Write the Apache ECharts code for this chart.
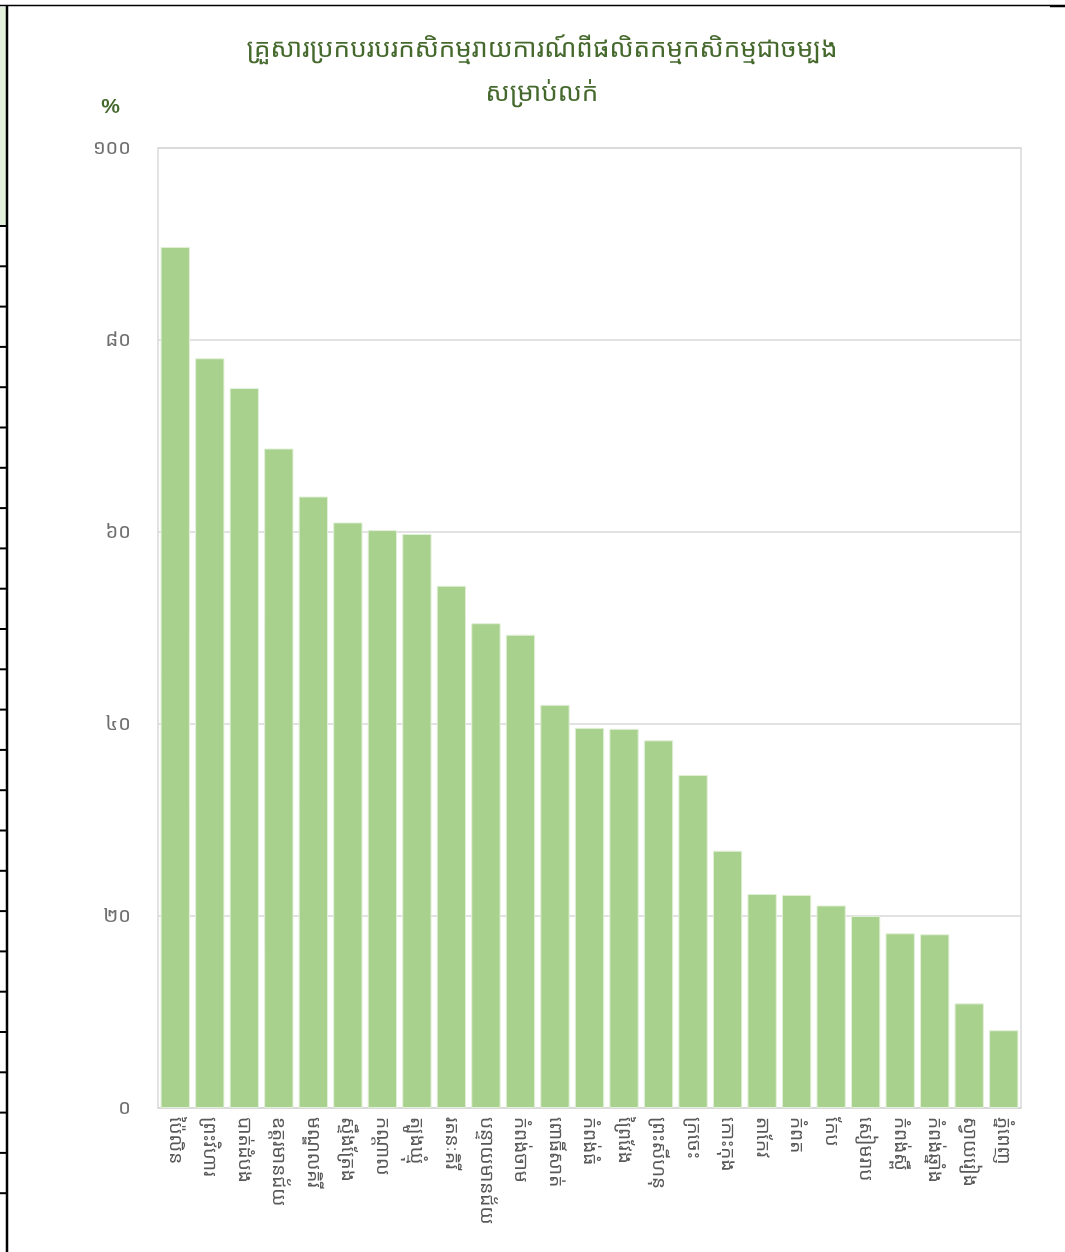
<!DOCTYPE html>
<html>
<head>
<meta charset="utf-8">
<script src="https://cdn.jsdelivr.net/npm/echarts@6/dist/echarts.min.js"></script>
<style>
  html, body { margin: 0; padding: 0; background: #fff; }
  #main { width: 1065px; height: 1252px; }
</style>
</head>
<body>
<div id="main"></div>
<script>
// ខេត្ត (provinces)
var provinces = [
  'ប៉ៃលិន', 'ព្រះវិហារ', 'បាត់ដំបង', 'ឧត្តរមានជ័យ', 'មណ្ឌលគិរី',
  'ស្ទឹងត្រែង', 'កណ្តាល', 'ត្បូងឃ្មុំ', 'រតនៈគិរី', 'បន្ទាយមានជ័យ',
  'កំពង់ចាម', 'ពោធិ៍សាត់', 'កំពង់ធំ', 'ព្រៃវែង', 'ព្រះសីហនុ',
  'ក្រចេះ', 'កោះកុង', 'តាកែវ', 'កំពត', 'កែប',
  'សៀមរាប', 'កំពង់ស្ពឺ', 'កំពង់ឆ្នាំង', 'ស្វាយរៀង', 'ភ្នំពេញ'
];
// % of households
var percents = [
  89.7, 78.1, 75.0, 68.7, 63.7,
  61.0, 60.2, 59.8, 54.4, 50.5,
  49.3, 42.0, 39.6, 39.5, 38.3,
  34.7, 26.8, 22.3, 22.2, 21.1,
  20.0, 18.2, 18.1, 10.9, 8.1
];
var khDigits = ['០', '១', '២', '៣', '៤', '៥', '៦', '៧', '៨', '៩'];
var titleText = 'គ្រួសារប្រកបរបរកសិកម្មរាយការណ៍ពីផលិតកម្មកសិកម្មជាចម្បង\nសម្រាប់លក់';

function toKhmer(n) {
  return String(n).replace(/[0-9]/g, function (d) { return khDigits[+d]; });
}

var khFont = '"Noto Sans Khmer", "Khmer OS", "Noto Sans", sans-serif';

// bits of the sheet border round the chart
var sheetLines = [];
for (var i = 0; i < 25; i++) {
  var ty = 226 + i * 40.3;
  sheetLines.push({
    type: 'line',
    shape: { x1: 0, y1: ty, x2: 8, y2: ty },
    style: { stroke: '#000', lineWidth: 2 }
  });
}

var myChart = echarts.init(document.getElementById('main'));
var option = {
  backgroundColor: '#fff',
  animation: false,
  title: {
    text: titleText,
    left: 537,
    top: 23,
    textAlign: 'center',
    textStyle: {
      color: '#45692d',
      fontSize: 26,
      fontWeight: 'normal',
      fontFamily: khFont,
      lineHeight: 44
    }
  },
  graphic: [
    {
      type: 'rect',
      shape: { x: 0, y: 7, width: 7, height: 219 },
      style: { fill: '#e2efda' }
    },
    {
      type: 'line',
      shape: { x1: 7, y1: 5, x2: 7, y2: 1252 },
      style: { stroke: '#000', lineWidth: 2.5 }
    },
    {
      type: 'line',
      shape: { x1: 0, y1: 5.5, x2: 1050, y2: 5.5 },
      style: { stroke: '#000', lineWidth: 1.5 }
    },
    {
      type: 'line',
      shape: { x1: 1050, y1: 6, x2: 1065, y2: 6 },
      style: { stroke: '#000', lineWidth: 2.5 }
    },
    {
      type: 'rect',
      shape: { x: 158, y: 148, width: 863, height: 960 },
      style: { fill: 'none', stroke: '#d9d9d9', lineWidth: 1.5 },
      z: 0
    }
  ].concat(sheetLines),
  grid: {
    left: 158,
    right: 44,
    top: 148,
    bottom: 144,
    containLabel: false
  },
  xAxis: {
    type: 'category',
    data: provinces,
    axisLine: { show: true, lineStyle: { color: '#d9d9d9', width: 1.5 } },
    axisTick: { show: false },
    axisLabel: {
      interval: 0,
      rotate: -90,
      margin: 9,
      color: '#595959',
      fontSize: 19,
      fontFamily: khFont
    }
  },
  yAxis: {
    type: 'value',
    min: 0,
    max: 100,
    interval: 20,
    name: '%',
    nameLocation: 'end',
    nameGap: 30,
    nameTextStyle: {
      color: '#45692d',
      fontSize: 21,
      fontWeight: 'bold',
      align: 'center',
      padding: [0, 0, 0, -95]
    },
    axisLine: { show: false },
    axisTick: { show: false },
    splitLine: { lineStyle: { color: '#d9d9d9', width: 1.5 } },
    axisLabel: {
      margin: 27,
      color: '#6f6f6f',
      fontSize: 20,
      fontFamily: khFont,
      formatter: function (v) { return toKhmer(v); }
    }
  },
  series: [{
    type: 'bar',
    data: percents,
    barCategoryGap: '15%',
    itemStyle: {
      color: '#a9d18e',
      borderColor: '#e2f0d9',
      borderWidth: 1
    }
  }]
};
myChart.setOption(option);
</script>
</body>
</html>
